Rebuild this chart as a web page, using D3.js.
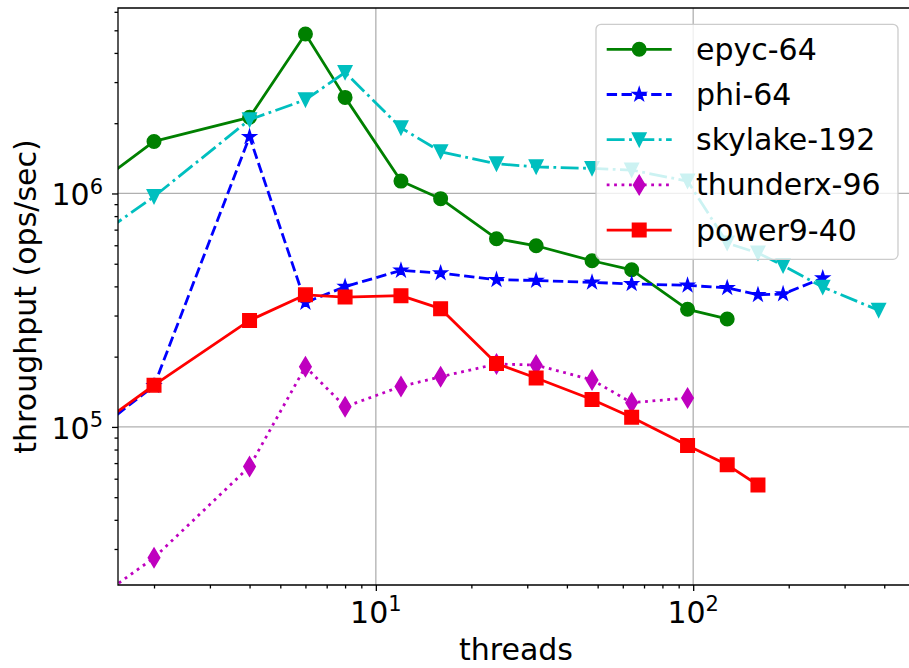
<!DOCTYPE html>
<html>
<head>
<meta charset="utf-8">
<script src="https://cdn.jsdelivr.net/npm/d3@7"></script>
<style>
  body { margin: 0; background: #fff; }
  text { font-family: "DejaVu Sans", sans-serif; fill: #000; }
</style>
</head>
<body>
<svg id="chart" width="909" height="668"></svg>
<script>
// thread counts per series
var threadsEpyc = [1, 2, 4, 6, 8, 12, 16, 24, 32, 48, 64, 96, 128];
var threadsPhi = [1, 2, 4, 6, 8, 12, 16, 24, 32, 48, 64, 96, 128, 160, 192, 256];
var threadsSkylake = [1, 2, 4, 6, 8, 12, 16, 24, 32, 48, 64, 96, 128, 160, 192, 256, 384];
var threadsThunderx = [1, 2, 4, 6, 8, 12, 16, 24, 32, 48, 64, 96];
var threadsPower9 = [1, 2, 4, 6, 8, 12, 16, 24, 32, 48, 64, 96, 128, 160];

// throughput (ops/sec)
var epyc64 = [8.3e5, 1.67e6, 2.12e6, 4.82e6, 2.58e6, 1.13e6, 9.5e5, 6.4e5, 5.97e5, 5.15e5, 4.71e5, 3.19e5, 2.9e5];
var phi64 = [7.2e4, 1.5e5, 1.75e6, 3.41e5, 3.99e5, 4.68e5, 4.56e5, 4.27e5, 4.24e5, 4.16e5, 4.1e5, 4.04e5, 3.94e5, 3.68e5, 3.71e5, 4.34e5];
var skylake192 = [4.98e5, 9.7e5, 2.07e6, 2.52e6, 3.3e6, 1.91e6, 1.51e6, 1.34e6, 1.3e6, 1.28e6, 1.26e6, 1.13e6, 6.13e5, 5.56e5, 4.91e5, 3.97e5, 3.16e5];
var thunderx96 = [1.4e4, 2.75e4, 6.76e4, 1.81e5, 1.22e5, 1.49e5, 1.64e5, 1.86e5, 1.84e5, 1.59e5, 1.27e5, 1.33e5];
var power940 = [7.64e4, 1.51e5, 2.86e5, 3.68e5, 3.6e5, 3.65e5, 3.21e5, 1.87e5, 1.62e5, 1.31e5, 1.1e5, 8.33e4, 6.88e4, 5.64e4];

var seriesNames = ["epyc-64", "phi-64", "skylake-192", "thunderx-96", "power9-40"];

// tick labels (exponents)
var xTickExp = [1, 2];
var yTickExp = [5, 6];

var margin = {top: 8, left: 118, bottom: 83};
var svg = d3.select("#chart");
var height = 668 - margin.top - margin.bottom;

var x = d3.scaleLog()
  .domain([1.54, 500])
  .range([margin.left, 915]);

var y = d3.scaleLog()
  .domain([21030, 6.23e6])
  .range([margin.top + height, margin.top]);

var lw = 2.8;
var ms = 13.5;

// matplotlib style markers
var markerCircle = { draw: function(c, s) { c.moveTo(s / 2, 0); c.arc(0, 0, s / 2, 0, 2 * Math.PI); } };
var markerSquare = { draw: function(c, s) { c.rect(-s / 2, -s / 2, s, s); } };
var markerStar = { draw: function(c, s) {
  var ro = s / 2, ri = ro * 0.381966;
  for (var i = 0; i < 10; i++) {
    var r = i % 2 == 0 ? ro : ri;
    var a = -Math.PI / 2 + i * Math.PI / 5;
    if (i == 0) c.moveTo(r * Math.cos(a), r * Math.sin(a));
    else c.lineTo(r * Math.cos(a), r * Math.sin(a));
  }
  c.closePath();
} };
var markerTriDown = { draw: function(c, s) {
  c.moveTo(0, s / 2); c.lineTo(-s / 2, -s / 2); c.lineTo(s / 2, -s / 2); c.closePath();
} };
var markerThinDiamond = { draw: function(c, s) {
  var h = s * 0.7071, w = h * 0.6;
  c.moveTo(0, -h); c.lineTo(w, 0); c.lineTo(0, h); c.lineTo(-w, 0); c.closePath();
} };

var series = [
  {name: seriesNames[0], xs: threadsEpyc, ys: epyc64, color: "#008000", dash: null, marker: markerCircle},
  {name: seriesNames[1], xs: threadsPhi, ys: phi64, color: "#0000ff", dash: [3.7 * lw, 1.6 * lw], marker: markerStar},
  {name: seriesNames[2], xs: threadsSkylake, ys: skylake192, color: "#00bfbf", dash: [6.4 * lw, 1.6 * lw, 1 * lw, 1.6 * lw], marker: markerTriDown},
  {name: seriesNames[3], xs: threadsThunderx, ys: thunderx96, color: "#bf00bf", dash: [1 * lw, 1.65 * lw], marker: markerThinDiamond},
  {name: seriesNames[4], xs: threadsPower9, ys: power940, color: "#ff0000", dash: null, marker: markerSquare}
];

svg.append("defs").append("clipPath").attr("id", "plotclip")
  .append("rect")
  .attr("x", margin.left).attr("y", margin.top)
  .attr("width", 915 - margin.left).attr("height", height);

// grid lines at decades
var gridColor = "#b0b0b0";
svg.append("g").selectAll("line")
  .data(xTickExp).enter().append("line")
  .attr("x1", function(d) { return x(Math.pow(10, d)); })
  .attr("x2", function(d) { return x(Math.pow(10, d)); })
  .attr("y1", margin.top).attr("y2", margin.top + height)
  .attr("stroke", gridColor).attr("stroke-width", 1.3);
svg.append("g").selectAll("line")
  .data(yTickExp).enter().append("line")
  .attr("y1", function(d) { return y(Math.pow(10, d)); })
  .attr("y2", function(d) { return y(Math.pow(10, d)); })
  .attr("x1", margin.left).attr("x2", 915)
  .attr("stroke", gridColor).attr("stroke-width", 1.3);

// lines + markers
var plot = svg.append("g").attr("clip-path", "url(#plotclip)");
var line = d3.line()
  .x(function(d) { return x(d[0]); })
  .y(function(d) { return y(d[1]); });

series.forEach(function(s) {
  var pts = s.xs.map(function(t, i) { return [t, s.ys[i]]; });
  var g = plot.append("g");
  g.append("path")
    .datum(pts)
    .attr("d", line)
    .attr("fill", "none")
    .attr("stroke", s.color)
    .attr("stroke-width", lw)
    .attr("stroke-linejoin", "round")
    .attr("stroke-dasharray", s.dash ? s.dash.join(",") : null);
  g.selectAll(".mk")
    .data(pts)
    .enter().append("path")
    .attr("class", "mk")
    .attr("d", d3.symbol().type(s.marker).size(ms))
    .attr("transform", function(d) { return "translate(" + x(d[0]) + "," + y(d[1]) + ")"; })
    .attr("fill", s.color)
    .attr("stroke", s.color)
    .attr("stroke-width", 1.5)
    .attr("stroke-linejoin", "miter");
});

// axes: custom log ticks (major at decades, minor 2..9)
function minorTicks(scale) {
  var dom = scale.domain(), out = [];
  for (var e = Math.floor(Math.log10(dom[0])); e <= Math.ceil(Math.log10(dom[1])); e++) {
    for (var m = 2; m <= 9; m++) {
      var v = m * Math.pow(10, e);
      if (v >= dom[0] && v <= dom[1]) out.push(v);
    }
  }
  return out;
}

var xAxisMinor = d3.axisBottom(x).tickValues(minorTicks(x)).tickSize(3.5).tickFormat("");
var xAxisMajor = d3.axisBottom(x).tickValues(xTickExp.map(function(e) { return Math.pow(10, e); })).tickSize(6).tickFormat("");
var yAxisMinor = d3.axisLeft(y).tickValues(minorTicks(y)).tickSize(3.5).tickFormat("");
var yAxisMajor = d3.axisLeft(y).tickValues(yTickExp.map(function(e) { return Math.pow(10, e); })).tickSize(6).tickFormat("");

[xAxisMinor, xAxisMajor].forEach(function(a) {
  svg.append("g").attr("class", "axis axis--x")
    .attr("transform", "translate(0," + (margin.top + height) + ")")
    .call(a);
});
[yAxisMinor, yAxisMajor].forEach(function(a) {
  svg.append("g").attr("class", "axis axis--y")
    .attr("transform", "translate(" + margin.left + ",0)")
    .call(a);
});
svg.selectAll(".axis .domain").remove();
svg.selectAll(".axis line").attr("stroke", "#000").attr("stroke-width", 1.3);

// spines (left, bottom, top)
svg.append("path")
  .attr("d", "M915," + margin.top + "H" + margin.left + "V" + (margin.top + height) + "H915")
  .attr("fill", "none")
  .attr("stroke", "#000")
  .attr("stroke-width", 1.3);

// tick labels as 10^n
var xLab = svg.append("g").selectAll("text")
  .data(xTickExp).enter().append("text")
  .attr("x", function(d) { return x(Math.pow(10, d)); })
  .attr("y", margin.top + height + 38)
  .attr("text-anchor", "middle")
  .style("font-size", "30px");
xLab.append("tspan").text("10");
xLab.append("tspan").attr("dy", -11.6).style("font-size", "21px").text(function(d) { return d; });

var yLab = svg.append("g").selectAll("text")
  .data(yTickExp).enter().append("text")
  .attr("x", margin.left - 15)
  .attr("y", function(d) { return y(Math.pow(10, d)) + 12; })
  .attr("text-anchor", "end")
  .style("font-size", "30px");
yLab.append("tspan").text("10");
yLab.append("tspan").attr("dy", -11.6).style("font-size", "21px").text(function(d) { return d; });

// axis titles
svg.append("text")
  .attr("x", 516)
  .attr("y", 660)
  .attr("text-anchor", "middle")
  .style("font-size", "30px")
  .text("threads");

svg.append("text")
  .attr("transform", "translate(36," + (margin.top + height / 2) + ") rotate(-90)")
  .attr("text-anchor", "middle")
  .style("font-size", "30px")
  .text("throughput (ops/sec)");

// legend
var legend = svg.append("g").attr("transform", "translate(596,24.3)");
legend.append("rect")
  .attr("width", 302).attr("height", 235)
  .attr("rx", 5).attr("ry", 5)
  .attr("fill", "#fff").attr("fill-opacity", 0.8)
  .attr("stroke", "#cccccc").attr("stroke-width", 1.3);

var item = legend.selectAll(".legend")
  .data(series)
  .enter().append("g")
  .attr("class", "legend")
  .attr("transform", function(d, i) { return "translate(0," + (25 + i * 45.2) + ")"; });

item.append("line")
  .attr("x1", 10.7).attr("x2", 75.7)
  .attr("stroke", function(d) { return d.color; })
  .attr("stroke-width", lw)
  .attr("stroke-dasharray", function(d) { return d.dash ? d.dash.join(",") : null; });
item.append("path")
  .attr("d", function(d) { return d3.symbol().type(d.marker).size(ms)(); })
  .attr("transform", "translate(43.2,0)")
  .attr("fill", function(d) { return d.color; })
  .attr("stroke", function(d) { return d.color; })
  .attr("stroke-width", 1.5);
item.append("text")
  .attr("x", 100)
  .attr("y", 10.5)
  .style("font-size", "30px")
  .text(function(d) { return d.name; });
</script>
</body>
</html>
